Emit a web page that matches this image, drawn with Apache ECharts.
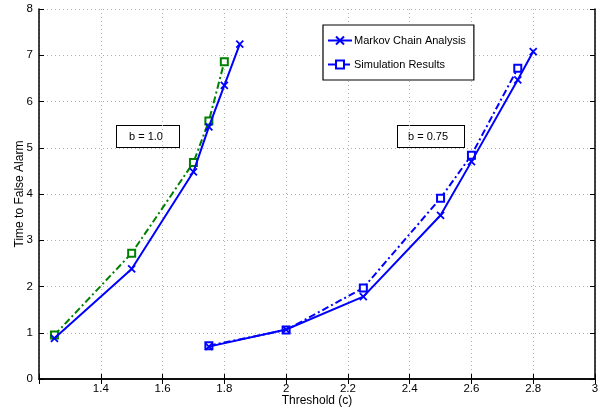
<!DOCTYPE html>
<html><head><meta charset="utf-8">
<script src="https://cdn.jsdelivr.net/npm/echarts@6/dist/echarts.min.js"></script>
<style>html,body{margin:0;padding:0;background:#fff}#c{width:616px;height:415px}</style>
</head><body><div id="c"></div>
<script>
// Data
const markovB1_x = [1.25, 1.5, 1.7, 1.75, 1.8, 1.85];
const markovB1_y = [0.88, 2.38, 4.48, 5.45, 6.35, 7.24];
const simB1_x = [1.25, 1.5, 1.7, 1.75, 1.8];
const simB1_y = [0.95, 2.72, 4.68, 5.58, 6.86];
const markovB075_x = [1.75, 2.0, 2.25, 2.5, 2.6, 2.75, 2.8];
const markovB075_y = [0.70, 1.07, 1.78, 3.54, 4.70, 6.47, 7.08];
const simB075_x = [1.75, 2.0, 2.25, 2.5, 2.6, 2.75];
const simB075_y = [0.72, 1.06, 1.97, 3.91, 4.84, 6.72];
const xTicks = [1.4, 1.6, 1.8, 2, 2.2, 2.4, 2.6, 2.8, 3];
const yTicks = [0, 1, 2, 3, 4, 5, 6, 7, 8];
const annotations = ['b = 1.0', 'b = 0.75'];

const pair = (xs, ys) => xs.map((x, i) => [x, ys[i]]);
const crossPath = 'path://M0,0L10,10M10,0L0,10';
const blue = '#0000ff', green = '#008000';
const font = 'Liberation Sans, Arial, sans-serif';
const dashDot = [7, 3, 2, 3];

const chart = echarts.init(document.getElementById('c'));
const axisCommon = {
  axisLine: {show: true, lineStyle: {color: '#000', width: 1.5}},
  axisTick: {show: true, inside: true, length: 5, lineStyle: {color: '#000'}},
  splitLine: {show: false}
};
const opt = {
  animation: false,
  backgroundColor: '#fff',
  grid: {left: 39, right: 21, top: 9, bottom: 36, containLabel: false, outerBoundsMode: 'none'},
  xAxis: [
    Object.assign({}, axisCommon, {
      type: 'value', min: 1.2, max: 3, interval: 0.2, position: 'bottom',
      name: 'Threshold (c)', nameLocation: 'middle', nameGap: 16, nameMoveOverlap: false,
      nameTextStyle: {color: '#000', fontSize: 12, fontFamily: font},
      axisLabel: {color: '#000', fontSize: 11.5, fontFamily: font, margin: 4,
        formatter: v => xTicks.some(t => Math.abs(t - v) < 1e-6) ? String(+v.toFixed(1)) : ''},
      splitLine: {show: true, lineStyle: {color: '#b0b0b0', type: [1, 3], width: 1}}
    }),
    Object.assign({}, axisCommon, {
      type: 'value', min: 1.2, max: 3, interval: 0.2, position: 'top',
      axisLabel: {show: false}
    })
  ],
  yAxis: [
    Object.assign({}, axisCommon, {
      type: 'value', min: 0, max: 8, interval: 1, position: 'left',
      name: 'Time to False Alarm', nameLocation: 'middle', nameGap: 13, nameMoveOverlap: false,
      nameTextStyle: {color: '#000', fontSize: 12, fontFamily: font},
      axisLabel: {color: '#000', fontSize: 11.5, fontFamily: font, margin: 6,
        formatter: v => yTicks.includes(v) ? String(v) : ''},
      splitLine: {show: true, lineStyle: {color: '#b0b0b0', type: [1, 3], width: 1}}
    }),
    Object.assign({}, axisCommon, {
      type: 'value', min: 0, max: 8, interval: 1, position: 'right',
      axisLabel: {show: false}
    })
  ],
  legend: {
    data: ['Markov Chain Analysis', 'Simulation Results'],
    orient: 'vertical', left: 323, top: 25, width: 148,
    padding: [10, 8, 10, 4], itemGap: 13, itemWidth: 24, itemHeight: 10,
    backgroundColor: '#fff', borderColor: '#000', borderWidth: 1.2, borderRadius: 0,
    textStyle: {color: '#000', fontSize: 11, fontFamily: font, padding: [0, 0, 0, -3]}
  },
  graphic: [
    {type: 'text', left: 116, top: 125, style: {text: annotations[0], fill: '#000', font: '11px ' + font,
      backgroundColor: '#fff', borderColor: '#000', borderWidth: 1, padding: [5, 20, 5, 12], width: 30}},
    {type: 'text', left: 397, top: 125, style: {text: annotations[1], fill: '#000', font: '11px ' + font,
      backgroundColor: '#fff', borderColor: '#000', borderWidth: 1, padding: [5, 12, 5, 10], width: 44}}
  ],
  series: [
    {name: 'Markov b=1.0', type: 'line', data: pair(markovB1_x, markovB1_y), z: 3,
      lineStyle: {color: blue, width: 2}, symbol: crossPath, symbolSize: 7,
      itemStyle: {color: blue, borderColor: blue, borderWidth: 1.8}},
    {name: 'Sim b=1.0', type: 'line', data: pair(simB1_x, simB1_y), z: 2,
      lineStyle: {color: green, width: 2, type: dashDot}, symbol: 'rect', symbolSize: 7,
      itemStyle: {color: '#fff', borderColor: green, borderWidth: 2}},
    {name: 'Markov Chain Analysis', type: 'line', data: pair(markovB075_x, markovB075_y), z: 3,
      lineStyle: {color: blue, width: 2}, symbol: crossPath, symbolSize: 7,
      itemStyle: {color: blue, borderColor: blue, borderWidth: 1.8}},
    {name: 'Simulation Results', type: 'line', data: pair(simB075_x, simB075_y), z: 2,
      lineStyle: {color: blue, width: 2, type: dashDot}, symbol: 'rect', symbolSize: 7,
      itemStyle: {color: '#fff', borderColor: blue, borderWidth: 2}}
  ]
};
chart.setOption(opt);
</script>
</body></html>
